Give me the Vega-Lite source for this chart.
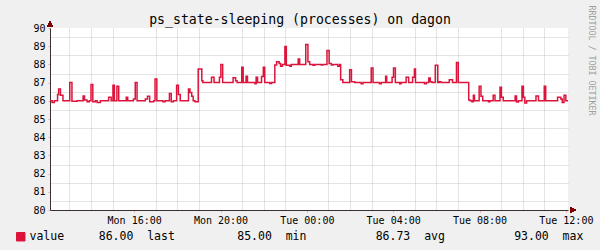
{
 "$schema": "https://vega.github.io/schema/vega-lite/v6.json",
 "width": 518,
 "height": 182,
 "autosize": {"type": "none"},
 "padding": {"left": 50, "top": 28, "right": 32, "bottom": 40},
 "background": "#F0F0F0",
 "config": {"view": {"fill": "#FFFFFF", "stroke": null}, "font": "DejaVu Sans Mono"},
 "title": {"text": "ps_state-sleeping (processes) on dagon", "font": "DejaVu Sans Mono", "fontSize": 13.2, "fontWeight": "normal", "color": "#000000", "anchor": "middle", "dx": -9, "dy": 28, "offset": 6},
 "data": {"values": [
  {"t":"2024-01-01T12:06","v":86},{"t":"2024-01-01T12:12","v":85.9},{"t":"2024-01-01T12:18","v":86},
  {"t":"2024-01-01T12:27","v":86.35},{"t":"2024-01-01T12:30","v":86.65},{"t":"2024-01-01T12:35","v":86.3},
  {"t":"2024-01-01T12:42","v":86},{"t":"2024-01-01T13:01","v":87},{"t":"2024-01-01T13:07","v":85.97},
  {"t":"2024-01-01T13:21","v":86},{"t":"2024-01-01T13:38","v":86.27},{"t":"2024-01-01T13:42","v":86.05},
  {"t":"2024-01-01T13:49","v":85.95},{"t":"2024-01-01T13:55","v":86},{"t":"2024-01-01T14:00","v":86.9},
  {"t":"2024-01-01T14:05","v":85.95},{"t":"2024-01-01T14:12","v":86},{"t":"2024-01-01T14:17","v":85.9},
  {"t":"2024-01-01T14:26","v":86},{"t":"2024-01-01T14:49","v":86.2},{"t":"2024-01-01T14:56","v":86},
  {"t":"2024-01-01T15:01","v":86.85},{"t":"2024-01-01T15:05","v":86},{"t":"2024-01-01T15:12","v":86.8},
  {"t":"2024-01-01T15:17","v":86},{"t":"2024-01-01T15:38","v":86.2},{"t":"2024-01-01T15:42","v":86},
  {"t":"2024-01-01T15:58","v":86.1},{"t":"2024-01-01T16:03","v":87},{"t":"2024-01-01T16:08","v":86},
  {"t":"2024-01-01T16:31","v":86.1},{"t":"2024-01-01T16:37","v":86.25},{"t":"2024-01-01T16:43","v":85.95},
  {"t":"2024-01-01T16:54","v":86},{"t":"2024-01-01T16:58","v":87.2},{"t":"2024-01-01T17:03","v":86},
  {"t":"2024-01-01T17:20","v":85.95},{"t":"2024-01-01T17:26","v":86},{"t":"2024-01-01T17:38","v":86.4},
  {"t":"2024-01-01T17:43","v":85.95},{"t":"2024-01-01T17:49","v":86},{"t":"2024-01-01T17:58","v":86.85},
  {"t":"2024-01-01T18:03","v":86.35},{"t":"2024-01-01T18:08","v":86},{"t":"2024-01-01T18:31","v":86.65},
  {"t":"2024-01-01T18:35","v":86.45},{"t":"2024-01-01T18:40","v":86.25},{"t":"2024-01-01T18:44","v":86},
  {"t":"2024-01-01T18:49","v":85.95},{"t":"2024-01-01T18:58","v":87.75},{"t":"2024-01-01T19:08","v":87.1},
  {"t":"2024-01-01T19:11","v":87},{"t":"2024-01-01T19:35","v":87.3},{"t":"2024-01-01T19:42","v":87},
  {"t":"2024-01-01T19:57","v":87.3},{"t":"2024-01-01T20:01","v":88},{"t":"2024-01-01T20:06","v":87},
  {"t":"2024-01-01T20:35","v":87.27},{"t":"2024-01-01T20:42","v":87.1},{"t":"2024-01-01T20:46","v":87},
  {"t":"2024-01-01T20:59","v":87.85},{"t":"2024-01-01T21:03","v":87},{"t":"2024-01-01T21:11","v":87.35},
  {"t":"2024-01-01T21:15","v":87},{"t":"2024-01-01T21:36","v":86.93},{"t":"2024-01-01T21:39","v":87.3},
  {"t":"2024-01-01T21:43","v":87},{"t":"2024-01-01T21:54","v":87.33},{"t":"2024-01-01T21:59","v":87.85},
  {"t":"2024-01-01T22:03","v":87},{"t":"2024-01-01T22:17","v":86.95},{"t":"2024-01-01T22:22","v":87},
  {"t":"2024-01-01T22:31","v":87.97},{"t":"2024-01-01T22:36","v":88.15},{"t":"2024-01-01T22:43","v":88.05},
  {"t":"2024-01-01T22:47","v":87.9},{"t":"2024-01-01T22:52","v":88},{"t":"2024-01-01T22:59","v":88.98},
  {"t":"2024-01-01T23:03","v":87.95},{"t":"2024-01-01T23:13","v":87.9},{"t":"2024-01-01T23:17","v":88},
  {"t":"2024-01-01T23:36","v":88.3},{"t":"2024-01-01T23:40","v":88},{"t":"2024-01-01T23:57","v":89.1},
  {"t":"2024-01-02T00:03","v":88.15},{"t":"2024-01-02T00:08","v":88},{"t":"2024-01-02T00:17","v":87.95},
  {"t":"2024-01-02T00:22","v":88},{"t":"2024-01-02T00:40","v":87.97},{"t":"2024-01-02T00:45","v":88},
  {"t":"2024-01-02T00:56","v":88.76},{"t":"2024-01-02T01:02","v":88.05},{"t":"2024-01-02T01:08","v":87.97},
  {"t":"2024-01-02T01:13","v":88},{"t":"2024-01-02T01:26","v":87.9},{"t":"2024-01-02T01:31","v":88},
  {"t":"2024-01-02T01:34","v":87.15},{"t":"2024-01-02T01:40","v":87},{"t":"2024-01-02T01:59","v":87.7},
  {"t":"2024-01-02T02:04","v":87.05},{"t":"2024-01-02T02:13","v":87},{"t":"2024-01-02T02:31","v":86.93},
  {"t":"2024-01-02T02:36","v":87},{"t":"2024-01-02T02:59","v":87.8},{"t":"2024-01-02T03:04","v":87},
  {"t":"2024-01-02T03:22","v":86.93},{"t":"2024-01-02T03:27","v":87},{"t":"2024-01-02T03:39","v":87.35},
  {"t":"2024-01-02T03:42","v":87},{"t":"2024-01-02T03:57","v":87.3},{"t":"2024-01-02T04:01","v":87.8},
  {"t":"2024-01-02T04:06","v":87},{"t":"2024-01-02T04:18","v":86.93},{"t":"2024-01-02T04:22","v":87},
  {"t":"2024-01-02T04:36","v":87.3},{"t":"2024-01-02T04:43","v":87},{"t":"2024-01-02T04:54","v":87.3},
  {"t":"2024-01-02T04:59","v":87.75},{"t":"2024-01-02T05:02","v":87},{"t":"2024-01-02T05:27","v":86.93},
  {"t":"2024-01-02T05:32","v":87},{"t":"2024-01-02T05:39","v":87.25},{"t":"2024-01-02T05:43","v":87.05},
  {"t":"2024-01-02T05:48","v":87},{"t":"2024-01-02T05:57","v":87.95},{"t":"2024-01-02T06:04","v":87},
  {"t":"2024-01-02T06:08","v":87.05},{"t":"2024-01-02T06:13","v":87},{"t":"2024-01-02T06:36","v":87.15},
  {"t":"2024-01-02T06:45","v":87},{"t":"2024-01-02T06:56","v":88.1},{"t":"2024-01-02T07:01","v":87},
  {"t":"2024-01-02T07:30","v":86.05},{"t":"2024-01-02T07:34","v":86},{"t":"2024-01-02T07:39","v":85.95},
  {"t":"2024-01-02T07:43","v":86.3},{"t":"2024-01-02T07:46","v":86},{"t":"2024-01-02T07:59","v":86.8},
  {"t":"2024-01-02T08:04","v":86.25},{"t":"2024-01-02T08:09","v":86},{"t":"2024-01-02T08:25","v":85.95},
  {"t":"2024-01-02T08:29","v":86},{"t":"2024-01-02T08:38","v":86.3},{"t":"2024-01-02T08:43","v":86},
  {"t":"2024-01-02T08:57","v":86.75},{"t":"2024-01-02T09:01","v":86.2},{"t":"2024-01-02T09:06","v":86},
  {"t":"2024-01-02T09:39","v":86.27},{"t":"2024-01-02T09:43","v":85.93},{"t":"2024-01-02T09:48","v":86},
  {"t":"2024-01-02T09:58","v":86.8},{"t":"2024-01-02T10:02","v":86.2},{"t":"2024-01-02T10:06","v":85.88},
  {"t":"2024-01-02T10:11","v":86},{"t":"2024-01-02T10:37","v":86.27},{"t":"2024-01-02T10:44","v":86},
  {"t":"2024-01-02T11:00","v":86.8},{"t":"2024-01-02T11:04","v":86},{"t":"2024-01-02T11:37","v":86.2},
  {"t":"2024-01-02T11:46","v":86.1},{"t":"2024-01-02T11:50","v":85.9},{"t":"2024-01-02T11:55","v":86.3},
  {"t":"2024-01-02T12:00","v":86},{"t":"2024-01-02T12:06","v":86}
 ]},
 "layer": [
  {
   "mark": {"type": "line", "opacity": 0},
   "encoding": {
    "x": {"field": "t", "type": "temporal",
     "scale": {"domain": [{"year": 2024, "month": 1, "date": 1, "hours": 12, "minutes": 6}, {"year": 2024, "month": 1, "date": 2, "hours": 12, "minutes": 6}]},
     "axis": {"orient": "bottom", "title": null, "labels": false, "ticks": false, "domain": false,
      "values": [{"year": 2024, "month": 1, "date": 1, "hours": 13}, {"year": 2024, "month": 1, "date": 1, "hours": 14}, {"year": 2024, "month": 1, "date": 1, "hours": 15}, {"year": 2024, "month": 1, "date": 1, "hours": 17}, {"year": 2024, "month": 1, "date": 1, "hours": 18}, {"year": 2024, "month": 1, "date": 1, "hours": 19}, {"year": 2024, "month": 1, "date": 1, "hours": 21}, {"year": 2024, "month": 1, "date": 1, "hours": 22}, {"year": 2024, "month": 1, "date": 1, "hours": 23}, {"year": 2024, "month": 1, "date": 2, "hours": 1}, {"year": 2024, "month": 1, "date": 2, "hours": 2}, {"year": 2024, "month": 1, "date": 2, "hours": 3}, {"year": 2024, "month": 1, "date": 2, "hours": 5}, {"year": 2024, "month": 1, "date": 2, "hours": 6}, {"year": 2024, "month": 1, "date": 2, "hours": 7}, {"year": 2024, "month": 1, "date": 2, "hours": 9}, {"year": 2024, "month": 1, "date": 2, "hours": 10}, {"year": 2024, "month": 1, "date": 2, "hours": 11}],
      "gridColor": "#C8C8C8", "gridDash": [1, 1], "gridOpacity": 1}},
    "y": {"field": "v", "type": "quantitative",
     "scale": {"domain": [80, 90], "nice": false, "zero": false},
     "axis": {"orient": "right", "labels": false, "ticks": false, "domain": false,
      "values": [80.5, 81.5, 82.5, 83.5, 84.5, 85.5, 86.5, 87.5, 88.5, 89.5],
      "gridColor": "#C8C8C8", "gridDash": [1, 1], "gridOpacity": 1,
      "title": "RRDTOOL / TOBI OETIKER", "titleAngle": 90, "titleFont": "DejaVu Sans Mono", "titleFontSize": 8.3, "titleFontWeight": "normal",
      "titleColor": "#A0A0A0", "titleX": 22, "titleY": 32, "titleAlign": "center", "titleBaseline": "middle"}}
   }
  },
  {
   "mark": {"type": "line", "interpolate": "step-after", "strokeWidth": 1.5},
   "encoding": {
    "x": {"field": "t", "type": "temporal",
     "axis": {"orient": "bottom", "title": null, "format": "%a %H:%M",
      "values": [{"year": 2024, "month": 1, "date": 1, "hours": 16}, {"year": 2024, "month": 1, "date": 1, "hours": 20}, {"year": 2024, "month": 1, "date": 2, "hours": 0}, {"year": 2024, "month": 1, "date": 2, "hours": 4}, {"year": 2024, "month": 1, "date": 2, "hours": 8}, {"year": 2024, "month": 1, "date": 2, "hours": 12}],
      "labelOverlap": false, "labelFlush": false, "labelFont": "DejaVu Sans Mono", "labelFontSize": 10, "labelColor": "#000000", "labelPadding": 3,
      "tickSize": 2, "tickColor": "#F4A4A4", "gridColor": "#F4A4A4",
      "gridDash": [1, 1], "gridOpacity": 1, "domainColor": "#3A3030", "domainWidth": 1}},
    "y": {"field": "v", "type": "quantitative",
     "axis": {"orient": "left", "title": null, "values": [80, 81, 82, 83, 84, 85, 86, 87, 88, 89, 90],
      "labelFont": "DejaVu Sans Mono", "labelFontSize": 10, "labelColor": "#000000", "labelPadding": 3,
      "tickSize": 2, "tickColor": "#F4A4A4", "gridColor": "#F4A4A4",
      "gridDash": [1, 1], "gridOpacity": 1, "domainColor": "#3A3030", "domainWidth": 1}},
    "color": {"datum": "value", "scale": {"range": ["#DC143C"]},
     "legend": {"orient": "none", "legendX": -35, "legendY": 203, "padding": 0, "title": null,
      "symbolType": "square", "symbolSize": 72, "symbolStrokeWidth": 1, "symbolFillColor": "#DC143C", "symbolStrokeColor": "#000000",
      "labelFont": "DejaVu Sans Mono", "labelFontSize": 11.5, "labelColor": "#000000", "labelOffset": 3, "labelLimit": 600,
      "labelExpr": "'value\u00a0\u00a0\u00a0\u00a0\u00a086.00\u00a0\u00a0last\u00a0\u00a0\u00a0\u00a0\u00a0\u00a0\u00a0\u00a0\u00a085.00\u00a0\u00a0min\u00a0\u00a0\u00a0\u00a0\u00a0\u00a0\u00a0\u00a0\u00a0\u00a086.73\u00a0\u00a0avg\u00a0\u00a0\u00a0\u00a0\u00a0\u00a0\u00a0\u00a0\u00a0\u00a093.00\u00a0\u00a0max'"}}
   }
  },
  {
   "mark": {"type": "point", "shape": "triangle-up", "filled": true, "size": 28, "color": "#7F0000", "opacity": 1, "yOffset": -4},
   "encoding": {
    "x": {"datum": {"year": 2024, "month": 1, "date": 1, "hours": 12, "minutes": 6}, "type": "temporal", "axis": null},
    "y": {"datum": 90, "type": "quantitative", "axis": null}
   }
  },
  {
   "mark": {"type": "point", "shape": "triangle-right", "filled": true, "size": 28, "color": "#7F0000", "opacity": 1, "xOffset": 5},
   "encoding": {
    "x": {"datum": {"year": 2024, "month": 1, "date": 2, "hours": 12, "minutes": 6}, "type": "temporal", "axis": null},
    "y": {"datum": 80, "type": "quantitative", "axis": null}
   }
  }
 ],
 "resolve": {"axis": {"x": "independent", "y": "independent"}}
}
